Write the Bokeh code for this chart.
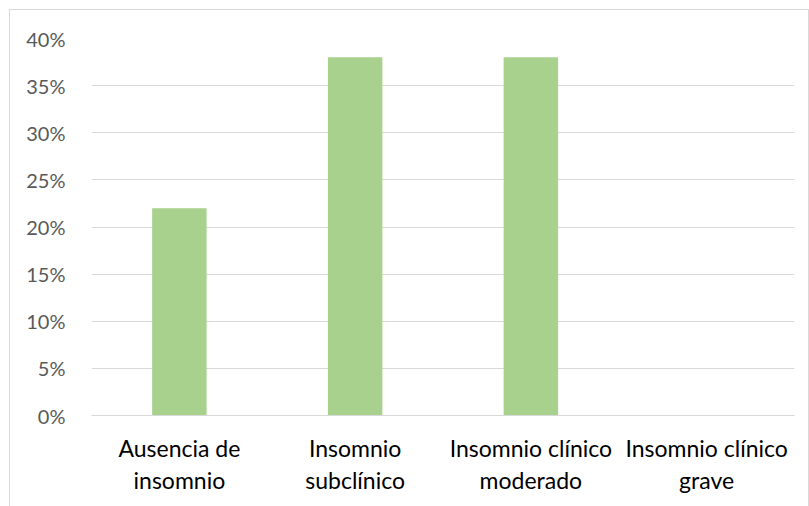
from bokeh.plotting import figure
from bokeh.models import NumeralTickFormatter, FixedTicker, Range1d
from bokeh.embed import file_html
from bokeh.resources import INLINE

categories = ["Ausencia de\ninsomnio", "Insomnio\nsubclínico", "Insomnio clínico\nmoderado", "Insomnio clínico\ngrave"]
values = [0.22, 0.38, 0.38, 0.0]
y_ticks = [0, 0.05, 0.10, 0.15, 0.20, 0.25, 0.30, 0.35, 0.40]

p = figure(x_range=categories, y_range=Range1d(0, 0.4), width=800, height=497,
           output_backend="svg", toolbar_location=None,
           min_border_left=81, min_border_right=16, min_border_top=28, min_border_bottom=92,
           margin=(9, 0, 0, 9),
           styles={"border-top": "1px solid #D9D9D9", "border-left": "1px solid #D9D9D9",
                   "border-right": "1px solid #D9D9D9", "box-sizing": "border-box"})
p.vbar(x=categories, top=values, width=0.31, color="#A9D18E", line_color=None)

p.outline_line_color = None
p.xgrid.grid_line_color = None
p.ygrid.grid_line_color = "#D9D9D9"
p.ygrid.grid_line_width = 1
p.yaxis.ticker = FixedTicker(ticks=y_ticks)
p.yaxis.formatter = NumeralTickFormatter(format="0%")
p.yaxis.axis_line_color = None
p.yaxis.major_tick_line_color = None
p.yaxis.minor_tick_line_color = None
p.yaxis.major_label_standoff = 20
p.yaxis.major_label_text_font = "Lato"
p.yaxis.major_label_text_font_size = "20px"
p.yaxis.major_label_text_color = "#595959"

p.xaxis.axis_line_color = "#D9D9D9"
p.xaxis.major_tick_line_color = None
p.xaxis.minor_tick_line_color = None
p.xaxis.major_label_standoff = 12
p.xaxis.major_label_text_font = "Lato"
p.xaxis.major_label_text_font_size = "23px"
p.xaxis.major_label_text_color = "#000000"
p.xaxis.major_label_text_line_height = 1.15

open("out.html", "w").write(file_html(p, INLINE))
